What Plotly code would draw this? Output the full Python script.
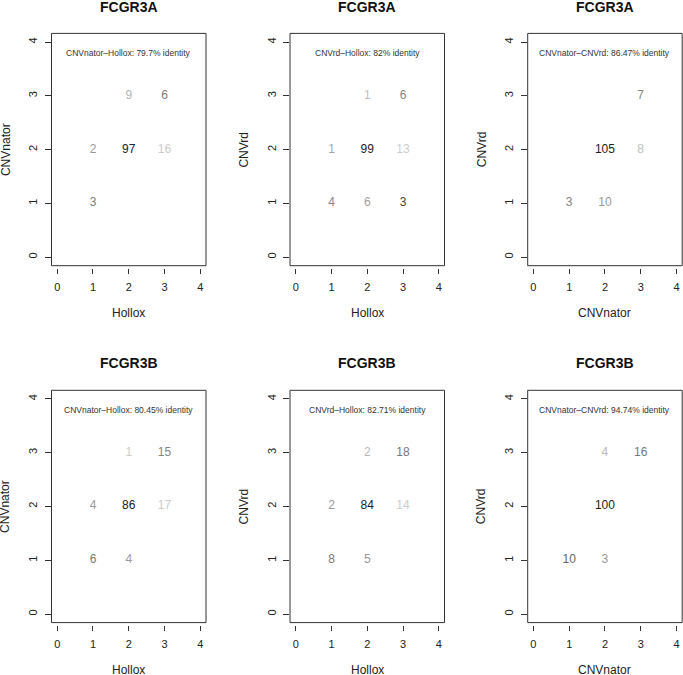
import plotly.graph_objects as go

W, H = 683, 675

# ---- data ----
genes = ["FCGR3A", "FCGR3A", "FCGR3A", "FCGR3B", "FCGR3B", "FCGR3B"]
x_names = ["Hollox", "Hollox", "CNVnator", "Hollox", "Hollox", "CNVnator"]
y_names = ["CNVnator", "CNVrd", "CNVrd", "CNVnator", "CNVrd", "CNVrd"]
labels = [
    "CNVnator\u2013Hollox: 79.7% identity",
    "CNVrd\u2013Hollox: 82% identity",
    "CNVnator\u2013CNVrd: 86.47% identity",
    "CNVnator\u2013Hollox: 80.45% identity",
    "CNVrd\u2013Hollox: 82.71% identity",
    "CNVnator\u2013CNVrd: 94.74% identity",
]

p1_x = [2, 3, 1, 2, 3, 1]
p1_y = [3, 3, 2, 2, 2, 1]
p1_n = [9, 6, 2, 97, 16, 3]
p1_c = ["#b4b4b4", "#7c7c7c", "#9a9a9a", "#222222", "#cccccc", "#7c7c7c"]

p2_x = [2, 3, 1, 2, 3, 1, 2, 3]
p2_y = [3, 3, 2, 2, 2, 1, 1, 1]
p2_n = [1, 6, 1, 99, 13, 4, 6, 3]
p2_c = ["#c0c0c0", "#858585", "#a4a4a4", "#222222", "#cccccc", "#858585", "#a0a0a0", "#444444"]

p3_x = [3, 2, 3, 1, 2]
p3_y = [3, 2, 2, 1, 1]
p3_n = [7, 105, 8, 3, 10]
p3_c = ["#858585", "#222222", "#c0c0c0", "#858585", "#999999"]

p4_x = [2, 3, 1, 2, 3, 1, 2]
p4_y = [3, 3, 2, 2, 2, 1, 1]
p4_n = [1, 15, 4, 86, 17, 6, 4]
p4_c = ["#cccccc", "#858585", "#999999", "#222222", "#cccccc", "#777777", "#999999"]

p5_x = [2, 3, 1, 2, 3, 1, 2]
p5_y = [3, 3, 2, 2, 2, 1, 1]
p5_n = [2, 18, 2, 84, 14, 8, 5]
p5_c = ["#b8b8b8", "#777777", "#999999", "#222222", "#cccccc", "#777777", "#999999"]

p6_x = [2, 3, 2, 1, 2]
p6_y = [3, 3, 2, 1, 1]
p6_n = [4, 16, 100, 10, 3]
p6_c = ["#b8b8b8", "#777777", "#222222", "#666666", "#999999"]

panels = [
    (p1_x, p1_y, p1_n, p1_c),
    (p2_x, p2_y, p2_n, p2_c),
    (p3_x, p3_y, p3_n, p3_c),
    (p4_x, p4_y, p4_n, p4_c),
    (p5_x, p5_y, p5_n, p5_c),
    (p6_x, p6_y, p6_n, p6_c),
]
tick_vals = [0, 1, 2, 3, 4]

# ---- layout geometry (pixels) ----
col_left = [51.5, 290.0, 527.7]
box_w = 154.5
row_top = [33.4, 390.3]
box_h = 232.3
title_y = [7.5, 363.3]

FONT = "Liberation Sans, Arial, Helvetica, sans-serif"

def fx(px):
    return px / W

def fy(py):
    return 1 - py / H

fig = go.Figure()
layout = dict(
    width=W, height=H,
    margin=dict(l=0, r=0, t=0, b=0),
    paper_bgcolor="white", plot_bgcolor="white",
    showlegend=False,
    font=dict(family=FONT, color="#222222"),
)
annotations = []
shapes = []

for i, (xs, ys, ns, cs) in enumerate(panels):
    r, c = divmod(i, 3)
    k = "" if i == 0 else str(i + 1)
    xl, xr = col_left[c], col_left[c] + box_w
    yt, yb = row_top[r], row_top[r] + box_h
    fig.add_trace(go.Scatter(
        x=xs, y=ys, text=[str(n) for n in ns], mode="text",
        textfont=dict(size=12, color=cs, family=FONT),
        xaxis="x" + k, yaxis="y" + k, hoverinfo="skip",
    ))
    layout["xaxis" + k] = dict(
        domain=[fx(xl), fx(xr)], range=[-0.16, 4.16],
        anchor="free", position=fy(yb + 2.5),
        showgrid=False, zeroline=False, showline=False,
        tickmode="array", tickvals=tick_vals, ticktext=[str(t) for t in tick_vals],
        ticks="outside", ticklen=5, tickcolor="#333333", tickwidth=1,
        ticklabelstandoff=4,
        tickfont=dict(size=11, color="#222222", family=FONT),
        fixedrange=True,
    )
    layout["yaxis" + k] = dict(
        domain=[fy(yb), fy(yt)], range=[-0.16, 4.16],
        anchor="x" + k,
        showgrid=False, zeroline=False, showline=False,
        tickmode="array", tickvals=tick_vals, ticktext=[str(t) for t in tick_vals],
        ticks="outside", ticklen=6, tickcolor="#333333", tickwidth=1,
        tickangle=-90, ticklabelstandoff=3,
        tickfont=dict(size=11, color="#222222", family=FONT),
        fixedrange=True,
    )
    shapes.append(dict(type="rect", xref="x" + k + " domain", yref="y" + k + " domain",
                       x0=0, x1=1, y0=0, y1=1, line=dict(color="#333333", width=1)))
    cx = (xl + xr) / 2
    # title
    annotations.append(dict(text="<b>" + genes[i] + "</b>", x=fx(cx), y=fy(title_y[r]),
                            xref="paper", yref="paper", showarrow=False,
                            xanchor="center", yanchor="middle",
                            font=dict(size=14, color="#111111", family=FONT)))
    # x title
    annotations.append(dict(text=x_names[i], x=fx(cx), y=fy(yb + 47.5),
                            xref="paper", yref="paper", showarrow=False,
                            xanchor="center", yanchor="middle",
                            font=dict(size=12, color="#222222", family=FONT)))
    # y title
    annotations.append(dict(text=y_names[i], x=fx(xl - 46), y=fy((yt + yb) / 2),
                            xref="paper", yref="paper", showarrow=False, textangle=-90,
                            xanchor="center", yanchor="middle",
                            font=dict(size=12, color="#222222", family=FONT)))
    # identity label
    annotations.append(dict(text=labels[i], x=2, y=3.8, xref="x" + k, yref="y" + k,
                            showarrow=False, xanchor="center", yanchor="middle",
                            font=dict(size=8.5, color="#333333", family=FONT)))

layout["annotations"] = annotations
layout["shapes"] = shapes
fig.update_layout(**layout)
fig.write_html("out.html", config={"displayModeBar": False},
               post_script="document.body.style.margin='0';")
